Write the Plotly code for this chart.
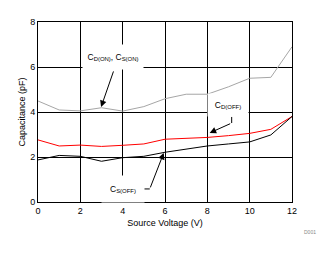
import plotly.graph_objects as go

voltage = [0, 1, 2, 3, 4, 5, 6, 7, 8, 9, 10, 11, 12]
c_on = [4.49, 4.09, 4.05, 4.19, 4.04, 4.24, 4.59, 4.79, 4.79, 5.12, 5.5, 5.54, 6.9]
c_d_off = [2.76, 2.49, 2.53, 2.47, 2.52, 2.58, 2.79, 2.83, 2.87, 2.95, 3.05, 3.23, 3.8]
c_s_off = [1.87, 2.07, 2.03, 1.81, 1.97, 2.03, 2.21, 2.34, 2.49, 2.58, 2.67, 2.98, 3.8]
x_ticks = [0, 2, 4, 6, 8, 10, 12]
y_ticks = [0, 2, 4, 6, 8]

FONT = "Liberation Sans, Arial, sans-serif"

fig = go.Figure()
fig.add_trace(go.Scatter(x=voltage, y=c_on, mode="lines", line=dict(color="#a6a6a6", width=1)))
fig.add_trace(go.Scatter(x=voltage, y=c_d_off, mode="lines", line=dict(color="#ff0000", width=1)))
fig.add_trace(go.Scatter(x=voltage, y=c_s_off, mode="lines", line=dict(color="#000000", width=1)))

ann_font = dict(family=FONT, size=8.5, color="black")
annotations = [
    dict(x=3.55, y=6.44, text="C<sub>D(ON)</sub>, C<sub>S(ON)</sub>", showarrow=False,
         bgcolor="white", width=60, height=24, borderpad=0, font=ann_font),
    dict(x=8.96, y=4.31, text="C<sub>D(OFF)</sub>", showarrow=False,
         bgcolor="white", width=40, height=22, borderpad=0, font=ann_font),
    dict(x=4.02, y=0.58, text="C<sub>S(OFF)</sub>", showarrow=False,
         bgcolor="white", width=42, height=26, borderpad=0, font=ann_font),
    # arrows
    dict(x=2.98, y=4.22, ax=3.59, ay=5.87, axref="x", ayref="y", text="", showarrow=True,
         arrowhead=2, arrowsize=1.3, arrowwidth=1, arrowcolor="black"),
    dict(x=8.11, y=3.07, ax=9.15, ay=3.51, axref="x", ayref="y", text="", showarrow=True,
         arrowhead=2, arrowsize=1.3, arrowwidth=1, arrowcolor="black"),
    dict(x=5.94, y=2.18, ax=5.28, ay=0.58, axref="x", ayref="y", text="", showarrow=True,
         arrowhead=2, arrowsize=1.3, arrowwidth=1, arrowcolor="black"),
    dict(x=1.0, y=-0.14, xref="paper", yref="paper", xanchor="left", yanchor="top", xshift=10,
         text="D001", showarrow=False, font=dict(family=FONT, size=5, color="#888888")),
]
shapes = [
    dict(type="line", x0=9.15, y0=3.78, x1=9.15, y1=3.51, line=dict(color="black", width=1)),
    dict(type="line", x0=4.96, y0=0.58, x1=5.28, y1=0.58, line=dict(color="black", width=1)),
]

fig.update_layout(
    width=325, height=254,
    margin=dict(l=38, r=33, t=22, b=52),
    paper_bgcolor="white", plot_bgcolor="white",
    showlegend=False,
    font=dict(family=FONT, size=9, color="black"),
    annotations=annotations,
    shapes=shapes,
)
fig.update_xaxes(range=[0, 12], tickvals=x_ticks, showgrid=True, gridcolor="black", gridwidth=1,
                 showline=True, linecolor="black", linewidth=1, mirror=True, ticks="",
                 zeroline=False, title=dict(text="Source Voltage (V)", font=dict(size=9), standoff=4),
                 tickfont=dict(size=9))
fig.update_yaxes(range=[0, 8], tickvals=y_ticks, showgrid=True, gridcolor="black", gridwidth=1,
                 showline=True, linecolor="black", linewidth=1, mirror=True, ticks="",
                 zeroline=False, title=dict(text="Capacitance (pF)", font=dict(size=9), standoff=3),
                 tickfont=dict(size=9))

fig.write_html("out.html")
